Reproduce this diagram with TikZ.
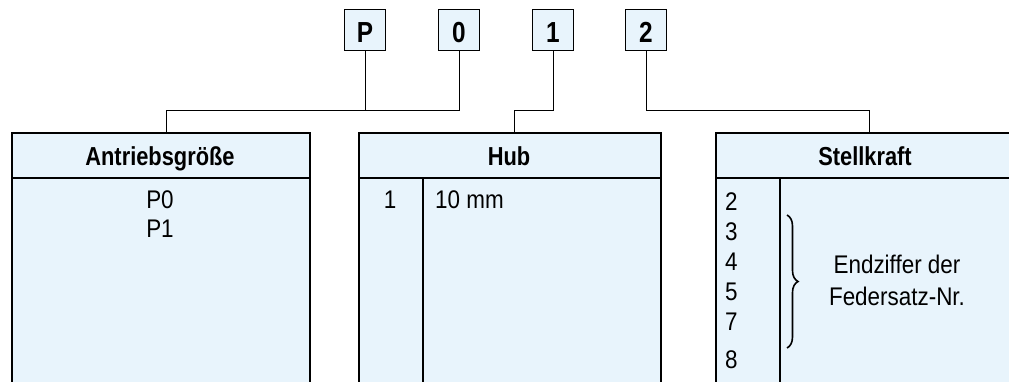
\documentclass[tikz,border=0pt]{standalone}
\usepackage{fontspec}
\setmainfont{Liberation Sans}[FakeStretch=0.88,BoldFeatures={FakeStretch=0.84}]
\usetikzlibrary{decorations.pathreplacing}

\definecolor{boxblue}{RGB}{232,244,252}

\begin{document}
\begin{tikzpicture}[x=1pt,y=-1pt,
  digit/.style={shape=rectangle,draw=black,fill=boxblue,line width=1.3pt,minimum size=41pt,inner sep=0pt},
  tab/.style={shape=rectangle,draw=black,fill=boxblue,line width=2.4pt,anchor=north west,minimum height=270pt},
  lbl/.style={inner sep=0pt,anchor=base,font=\fontsize{25.5}{28}\selectfont},
  head/.style={lbl,font=\fontsize{26}{28}\selectfont\bfseries},
  link/.style={draw=black,line width=1pt}]

\useasboundingbox (0,0) rectangle (1009,381);
\clip (0,0) rectangle (1009,381);

% code letters
\node[digit] (kP) at (365,30) {};
\node[digit] (k0) at (459,30) {};
\node[digit] (k1) at (553,30) {};
\node[digit] (k2) at (646,30) {};
\node[head,font=\fontsize{29}{29}\selectfont\bfseries] at (365,42) {P};
\node[head,font=\fontsize{29}{29}\selectfont\bfseries] at (459,42) {0};
\node[head,font=\fontsize{29}{29}\selectfont\bfseries] at (553,42) {1};
\node[head,font=\fontsize{29}{29}\selectfont\bfseries] at (646,42) {2};

% tables
\node[tab,minimum width=298pt] (TA) at (11,132) {};
\node[tab,minimum width=302pt] (TH) at (358,132) {};
\node[tab,minimum width=300pt] (TS) at (715,132) {};

\draw[line width=2.4pt] (11,178) -- (309,178);
\draw[line width=2.4pt] (358,178) -- (660,178);
\draw[line width=2.4pt] (715,178) -- (1015,178);
\draw[line width=2.2pt] (423,178) -- (423,400);
\draw[line width=2.2pt] (780,178) -- (780,400);

\coordinate (cA) at (166,132);
\coordinate (cH) at (514,132);
\coordinate (cS) at (869,132);

% connectors
\path[link] (kP.south) -- (kP.south |- 0,110);
\path[link] (cA) -- (166,110) -| (k0.south);
\path[link] (k1.south) |- (514,110) -- (cH);
\path[link] (k2.south) |- (869,110) -- (cS);

% Antriebsgroesse
\node[head] (hA) at (160,165) {Antriebsgröße};
\node[lbl] (p0) at (160,208) {P0};
\node[lbl] (p1) at (160,237) {P1};

% Hub
\node[head] (hH) at (509,165) {Hub};
\node[lbl] (h1) at (390,208) {1};
\node[lbl,anchor=base west] (h10) at (435,208) {10 mm};

% Stellkraft
\node[head] (hS) at (865,165) {Stellkraft};
\node[lbl,anchor=base west] (s2) at (725,210) {2};
\node[lbl,anchor=base west] (s3) at (725,240) {3};
\node[lbl,anchor=base west] (s4) at (725,270) {4};
\node[lbl,anchor=base west] (s5) at (725,300) {5};
\node[lbl,anchor=base west] (s7) at (725,330) {7};
\node[lbl,anchor=base west] (s8) at (725,368) {8};
\draw[line width=1.6pt,decorate,decoration={brace,amplitude=11pt}] (787,215) -- (787,348);
\node[lbl] (e1) at (897,273) {Endziffer der};
\node[lbl] (e2) at (897,305) {Federsatz-Nr.};

\end{tikzpicture}
\end{document}
